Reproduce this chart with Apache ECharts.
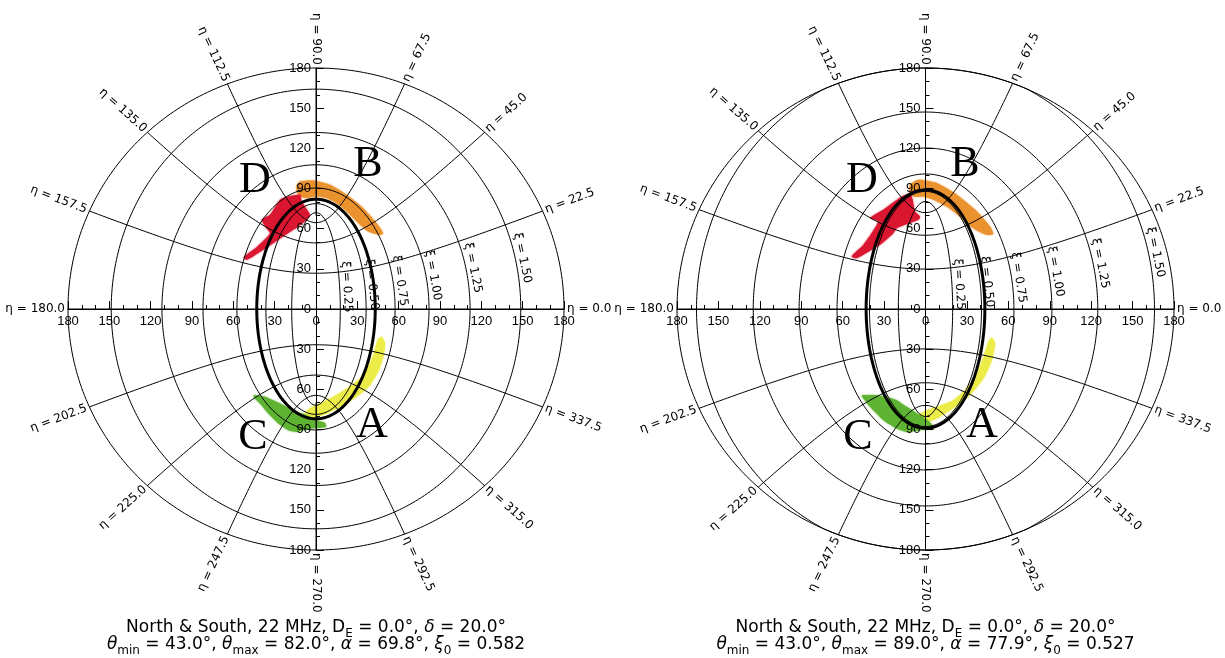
<!DOCTYPE html>
<html>
<head>
<meta charset="utf-8">
<script src="https://cdn.jsdelivr.net/npm/echarts@6/dist/echarts.min.js"></script>
<style>
  html, body { margin: 0; padding: 0; background: #fff; }
  #chart { width: 1225px; height: 658px; }
</style>
</head>
<body>
<div id="chart"></div>
<script>
// ---- Model parameters for the two panels (left, right) ----
const THETA_MIN = [43.0, 43.0];
const THETA_MAX = [82.0, 89.0];
const ALPHA     = [69.8, 77.9];
const XI0       = ['0.582', '0.527'];
const D_E       = [0.0, 0.0];
const DELTA     = [20.0, 20.0];
const FREQ_MHZ  = [22, 22];

// ---- Elliptic grid levels ----
const XI_LEVELS  = [0.25, 0.5, 0.75, 1.0, 1.25, 1.5];
const XI_TEXT    = ['0.25', '0.50', '0.75', '1.00', '1.25', '1.50'];
const ETA_LEVELS = [0, 22.5, 45, 67.5, 90, 112.5, 135, 157.5,
                    180, 202.5, 225, 247.5, 270, 292.5, 315, 337.5];
const RIM = 180;            // outer boundary, degrees
const XI_LABEL_ETA = 13;    // where the xi labels sit along each ellipse

// ---- Emission regions, [x, y] in degrees ----
const LEFT_B = [[-14,92.6],[-11.6,95.3],[-1.9,96],[10.2,92.8],[22.3,85.3],[34.3,75.3],[44,64.1],[48.8,56.6],
                [46.4,55.4],[37.9,57.9],[29.5,65.4],[22.3,72.8],[15,79],[7.8,82.8],[0.5,84],[-6.8,82.8],[-11.6,84],[-14,87.6]];
const LEFT_D = [[-26.1,81.6],[-20.1,84],[-11.6,85.3],[-10.4,80.3],[-4.4,70.4],[-6.8,66.6],[-12.9,61.6],[-23.9,54.1],
                [-38.2,44.2],[-50.2,36.7],[-52.5,38.7],[-43.1,46.2],[-33.4,56.4],[-35.8,60.1],[-39.4,66.6],[-33.4,70.4]];
const LEFT_A = [[47.7,-20.7],[50.1,-25.7],[48.9,-35.7],[45.2,-46.9],[39.2,-56.9],[29.5,-65.6],[17.4,-73.1],[7.8,-78.1],
                [-2,-81.8],[-6.8,-82.6],[-8,-78.1],[-4.4,-74.1],[2.9,-70.4],[12.6,-65.6],[22.3,-59.4],[31.9,-51.9],
                [37.9,-43.2],[41.6,-34.4],[44.7,-23.2]];
const LEFT_C = [[-45.3,-64.4],[-37,-65.6],[-26.1,-70.6],[-16.5,-75.6],[-6.8,-79.3],[0.5,-83.1],[6.5,-85.1],[7.3,-88.1],
                [-4.4,-89.3],[-14,-91.8],[-20.1,-90.6],[-27.3,-85.6],[-34.6,-78.1],[-40.6,-70.6],[-45,-66.1]];

const RIGHT_B = [[-11.2,92.8],[-5.1,96.6],[8.2,94.1],[22.8,85.3],[37.3,72.8],[46.7,61.6],[49.1,56.1],[44.3,55.4],
                 [34.6,60.4],[24.8,69.1],[15.2,76.5],[5.6,81.6],[-1.6,84],[-8.7,84],[-11.6,87.6]];
const RIGHT_D = [[-17.2,84],[-11.2,85.8],[-9.3,81.6],[-7.6,72.8],[-4,69.1],[-5.1,66.6],[-20.9,60.4],[-23.3,56.6],
                 [-33,47.9],[-49.9,37.9],[-53.5,39.2],[-45,47.9],[-34.2,65.4],[-40.2,67.9],[-30.6,74.1]];
const RIGHT_A = [[48.1,-21.2],[50.4,-25.7],[48.1,-38.2],[42,-51.9],[32.2,-64.2],[20.1,-74.1],[8.1,-81.8],[-0.4,-85.1],
                 [-5.2,-83.6],[-6.4,-80.6],[-1.6,-76.9],[8.1,-73.1],[20.1,-68.1],[29.8,-59.4],[37.1,-48.1],[42,-35.7],[45.5,-24.5]];
const RIGHT_C = [[-46.2,-64.4],[-35.4,-64.4],[-22.1,-67.6],[-13.6,-73.1],[-5.3,-78.6],[0.9,-82.6],[4.5,-86.1],[6.2,-89.3],
                 [-4,-90.6],[-13.6,-91.8],[-20.8,-89.3],[-30.5,-83.1],[-40.2,-73.1],[-45.5,-66.1]];

// Region letters and their anchor points (degrees)
const LETTERS = ['A', 'B', 'C', 'D'];
const LETTER_POS = [
  [[40.6,-86.8],[37.7,107.8],[-45.7,-95.8],[-44.3,96.3]],
  [[40.9,-86.8],[28.6,107.8],[-48.9,-95.8],[-46.0,96.3]]
];

const REGION_COLORS = { A: '#ECEC48', B: '#EA922E', C: '#5EB432', D: '#DB1631' };
const REGIONS = [
  [['B', LEFT_B], ['D', LEFT_D], ['A', LEFT_A], ['C', LEFT_C]],
  [['B', RIGHT_B], ['D', RIGHT_D], ['A', RIGHT_A], ['C', RIGHT_C]]
];

// ---- Geometry helpers: planar elliptic coordinates with focal distance c ----
const D2R = Math.PI / 180;
function ellPoint(c, xi, eta) {
  const e = eta * D2R;
  return [c * Math.sinh(xi) * Math.cos(e), c * Math.cosh(xi) * Math.sin(e)];
}
function clampToRim(p) {
  const r = Math.hypot(p[0], p[1]);
  return r > RIM ? [p[0] * RIM / r, p[1] * RIM / r] : p;
}
function xiCurve(c, xi) {
  const pts = [];
  for (let e = 0; e <= 360; e += 1) pts.push(clampToRim(ellPoint(c, xi, e)));
  return pts;
}
function etaRimXi(c, eta) {
  const s = Math.sin(eta * D2R);
  return Math.asinh(Math.sqrt((RIM / c) * (RIM / c) - s * s));
}
function etaCurve(c, eta) {
  const xm = etaRimXi(c, eta), pts = [], n = 90;
  for (let i = 0; i <= n; i++) pts.push(ellPoint(c, xm * i / n, eta));
  return pts;
}
function rimCircle() {
  const pts = [];
  for (let t = 0; t <= 360; t += 1) pts.push([RIM * Math.cos(t * D2R), RIM * Math.sin(t * D2R)]);
  return pts;
}
function boundaryEllipse(a, b) {
  const pts = [];
  for (let t = 0; t <= 360; t += 1) pts.push([a * Math.cos(t * D2R), b * Math.sin(t * D2R)]);
  return pts;
}

// ---- Layout ----
const GRIDS = [
  { left: 68, top: 68, width: 496, height: 482 },
  { left: 677, top: 68, width: 497, height: 482 }
];
const CENTER_X = [316, 925.5];
const AXIS_FONT = 'Liberation Sans, Arial, sans-serif';
const LABEL_FONT = 'DejaVu Sans, sans-serif';

// Axes cross at the centre of each panel: shift them inward by half the grid size.
function makeAxis(p, isX) {
  const g = GRIDS[p];
  return {
    gridIndex: p, type: 'value', min: -180, max: 180, interval: 30, z: 2,
    position: isX ? 'bottom' : 'left',
    offset: isX ? -g.height / 2 : -g.width / 2,
    axisLine: { onZero: false, lineStyle: { color: '#000', width: 1 } },
    axisTick: { show: true, inside: true, length: 8, lineStyle: { color: '#000', width: 1 } },
    minorTick: { show: true, splitNumber: 3, length: 4, lineStyle: { color: '#000', width: 1 } },
    axisLabel: {
      formatter: v => String(Math.abs(v)), color: '#000', fontSize: 13,
      fontFamily: AXIS_FONT, margin: isX ? 6 : 5
    },
    splitLine: { show: false }, minorSplitLine: { show: false }
  };
}

function lineSeries(p, pts, width, z) {
  return {
    type: 'line', xAxisIndex: p, yAxisIndex: p, data: pts, symbol: 'none',
    silent: true, animation: false, z: z, clip: false,
    lineStyle: { color: '#000', width: width }
  };
}

const series = [];
for (let p = 0; p < 2; p++) {
  const c = ALPHA[p];

  // emission regions
  const regs = REGIONS[p];
  series.push({
    type: 'custom', xAxisIndex: p, yAxisIndex: p, z: 1, silent: true, animation: false,
    data: regs.map((r, i) => [r[1][0][0], r[1][0][1], i]),
    renderItem: (params, api) => {
      const r = regs[api.value(2)];
      const col = REGION_COLORS[r[0]];
      return {
        type: 'polygon',
        shape: { points: r[1].map(v => api.coord(v)), smooth: 0.2 },
        style: { fill: col, shadowBlur: 2, shadowColor: col }
      };
    }
  });

  // rim and elliptic grid
  series.push(lineSeries(p, rimCircle(), 1, 3));
  XI_LEVELS.forEach(xi => series.push(lineSeries(p, xiCurve(c, xi), 1, 3)));
  ETA_LEVELS.forEach(eta => series.push(lineSeries(p, etaCurve(c, eta), 1, 3)));

  // emission cone boundary from theta_min / theta_max
  series.push(lineSeries(p, boundaryEllipse(THETA_MIN[p], THETA_MAX[p]), 3, 4));

  // eta labels outside the rim
  series.push({
    type: 'custom', xAxisIndex: p, yAxisIndex: p, z: 5, silent: true, animation: false,
    data: ETA_LEVELS.map((eta, i) => { const q = ellPoint(c, etaRimXi(c, eta), eta); return [q[0], q[1], i]; }),
    renderItem: (params, api) => {
      const eta = ETA_LEVELS[api.value(2)];
      const xm = etaRimXi(c, eta);
      const p1 = api.coord(ellPoint(c, xm, eta));
      const p0 = api.coord(ellPoint(c, xm * 0.96, eta));
      let dx = p1[0] - p0[0], dy = p1[1] - p0[1];
      const L = Math.hypot(dx, dy) || 1; dx /= L; dy /= L;
      let phi = Math.round(Math.atan2(-dy, dx) / D2R * 1000) / 1000;
      let rot, align;
      if (phi >= -90 && phi < 90) { rot = phi; align = 'left'; }
      else { rot = phi > 0 ? phi - 180 : phi + 180; align = 'right'; }
      const gap = 3;
      return {
        type: 'text', x: p1[0] + dx * gap, y: p1[1] + dy * gap, rotation: rot * D2R,
        style: { text: 'η = ' + eta.toFixed(1), align: align, verticalAlign: 'middle',
                 fontSize: 12, fontFamily: LABEL_FONT, fill: '#000' }
      };
    }
  });

  // xi labels beside each ellipse
  series.push({
    type: 'custom', xAxisIndex: p, yAxisIndex: p, z: 5, silent: true, animation: false,
    data: XI_LEVELS.map((xi, i) => { const q = ellPoint(c, xi, XI_LABEL_ETA); return [q[0], q[1], i]; }),
    renderItem: (params, api) => {
      const i = api.value(2), xi = XI_LEVELS[i];
      const pa = api.coord(ellPoint(c, xi, XI_LABEL_ETA - 1));
      const pb = api.coord(ellPoint(c, xi, XI_LABEL_ETA + 1));
      const pm = api.coord(ellPoint(c, xi, XI_LABEL_ETA));
      let tx = pb[0] - pa[0], ty = pb[1] - pa[1];
      const L = Math.hypot(tx, ty); tx /= L; ty /= L;
      const nx = -ty, ny = tx;
      const phi = Math.atan2(-ty, tx) / D2R;
      const off = 7;
      return {
        type: 'text', x: pm[0] + nx * off, y: pm[1] + ny * off, rotation: (phi - 180) * D2R,
        style: { text: 'ξ = ' + XI_TEXT[i], align: 'center', verticalAlign: 'middle',
                 fontSize: 12, fontFamily: LABEL_FONT, fill: '#000' }
      };
    }
  });

  // region letters
  series.push({
    type: 'custom', xAxisIndex: p, yAxisIndex: p, z: 6, silent: true, animation: false,
    data: LETTER_POS[p].map((q, i) => [q[0], q[1], i]),
    renderItem: (params, api) => {
      const pt = api.coord([api.value(0), api.value(1)]);
      return {
        type: 'text', x: pt[0], y: pt[1],
        style: { text: LETTERS[api.value(2)], align: 'center', verticalAlign: 'middle',
                 fontSize: 44, fontFamily: 'Liberation Serif, Times New Roman, serif', fill: '#000' }
      };
    }
  });
}

// ---- Captions ----
const capStyle = {
  color: '#000', fontSize: 17, fontWeight: 'normal', fontFamily: LABEL_FONT, lineHeight: 24,
  rich: {
    sub: { fontSize: 12, fontWeight: 'normal', lineHeight: 12, verticalAlign: 'bottom', fontFamily: LABEL_FONT, color: '#000' },
    gi: { fontSize: 17, fontWeight: 'normal', fontStyle: 'italic', fontFamily: LABEL_FONT, color: '#000' }
  }
};
const titles = [];
for (let p = 0; p < 2; p++) {
  titles.push({
    text: 'North & South, ' + FREQ_MHZ[p] + ' MHz, D{sub|E} = ' + D_E[p].toFixed(1) + '°, {gi|δ} = ' + DELTA[p].toFixed(1) + '°',
    left: CENTER_X[p], top: 616, textAlign: 'center', textVerticalAlign: 'top', padding: 0,
    textStyle: capStyle
  });
  titles.push({
    text: '{gi|θ}{sub|min} = ' + THETA_MIN[p].toFixed(1) + '°, {gi|θ}{sub|max} = ' + THETA_MAX[p].toFixed(1) +
          '°, {gi|α} = ' + ALPHA[p].toFixed(1) + '°, {gi|ξ}{sub|0} = ' + XI0[p],
    left: CENTER_X[p], top: 633, textAlign: 'center', textVerticalAlign: 'top', padding: 0,
    textStyle: capStyle
  });
}

const chart = echarts.init(document.getElementById('chart'), null, { renderer: 'canvas', width: 1225, height: 658 });
chart.setOption({
  animation: false,
  backgroundColor: '#fff',
  title: titles,
  grid: GRIDS.map(g => Object.assign({ containLabel: false, outerBoundsMode: 'none' }, g)),
  xAxis: [makeAxis(0, true), makeAxis(1, true)],
  yAxis: [makeAxis(0, false), makeAxis(1, false)],
  series: series
});
</script>
</body>
</html>
